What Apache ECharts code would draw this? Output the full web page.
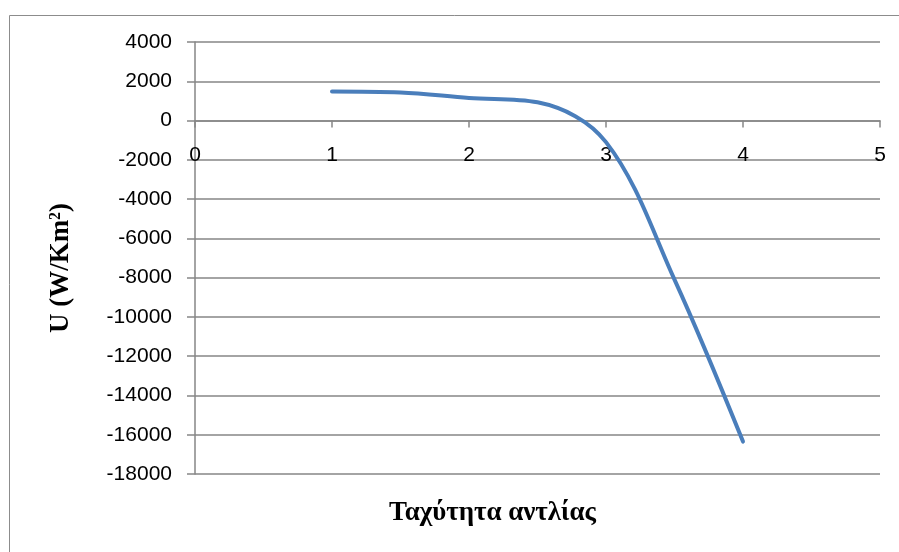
<!DOCTYPE html>
<html>
<head>
<meta charset="utf-8">
<script src="https://cdn.jsdelivr.net/npm/echarts@6/dist/echarts.min.js"></script>
<style>
html,body{margin:0;padding:0;background:#fff;}
#chart{width:899px;height:552px;}
</style>
</head>
<body>
<div id="chart"></div>
<script>
var pumpSpeed = [1, 1.5, 2, 2.5, 3, 3.5, 4];
var uValues = [1480, 1430, 1150, 930, -1100, -8100, -16350];
var yTicks = {min: -18000, max: 4000, step: 2000};
var xTicks = {min: 0, max: 5, step: 1};
var xName = 'Ταχύτητα αντλίας';
var yName = 'U (W/Km{sup|2})';

var chart = echarts.init(document.getElementById('chart'), null, {renderer: 'canvas'});
var pts = pumpSpeed.map(function (x, i) { return [x, uValues[i]]; });
var gridColor = '#868686';
var gridTop = 42, gridBottom = 78, chartH = 552;
var plotH = chartH - gridTop - gridBottom;
// distance from bottom of plot to the zero line
var zeroFromBottom = plotH * (0 - yTicks.min) / (yTicks.max - yTicks.min);
chart.setOption({
  animation: false,
  backgroundColor: '#ffffff',
  graphic: [{
    type: 'rect', left: 7, top: 13,
    shape: {width: 900, height: 560},
    style: {fill: 'none', stroke: '#8c8c8c', lineWidth: 1}
  }],
  grid: {left: 195, right: 19, top: gridTop, bottom: gridBottom},
  xAxis: {
    type: 'value', min: xTicks.min, max: xTicks.max, interval: xTicks.step,
    name: xName, nameLocation: 'middle', nameGap: 26, nameMoveOverlap: false,
    nameTextStyle: {fontFamily: 'Liberation Serif', fontWeight: 'bold', fontSize: 27, color: '#000',
      padding: [0, 90, 0, 0]},
    axisLine: {onZero: true, lineStyle: {color: gridColor, width: 1.5}},
    axisTick: {show: true, length: 7, lineStyle: {color: gridColor, width: 1.5}},
    axisLabel: {margin: 24 - zeroFromBottom, fontFamily: 'Liberation Sans', fontSize: 21, color: '#000'},
    splitLine: {show: false}
  },
  yAxis: {
    type: 'value', min: yTicks.min, max: yTicks.max, interval: yTicks.step,
    name: yName, nameLocation: 'middle', nameGap: 120, nameRotate: 90,
    nameTextStyle: {
      fontFamily: 'Liberation Serif', fontWeight: 'bold', fontSize: 27, color: '#000',
      padding: [0, 20, 0, 0],
      rich: {sup: {fontFamily: 'Liberation Serif', fontWeight: 'bold', fontSize: 16, color: '#000', verticalAlign: 'top', padding: [0,0,11,0]}}
    },
    axisLine: {show: true, lineStyle: {color: gridColor, width: 1.5}},
    axisTick: {show: true, length: 8, lineStyle: {color: gridColor, width: 1.5}},
    axisLabel: {margin: 23, fontFamily: 'Liberation Sans', fontSize: 21, color: '#000',
      formatter: function (v) { return String(v); }},
    splitLine: {show: true, lineStyle: {color: gridColor, width: 1.5}}
  },
  series: [{
    type: 'line', data: pts, smooth: 0.35, showSymbol: false,
    lineStyle: {color: '#4a7ebb', width: 4, cap: 'round'}
  }]
});
</script>
</body>
</html>
